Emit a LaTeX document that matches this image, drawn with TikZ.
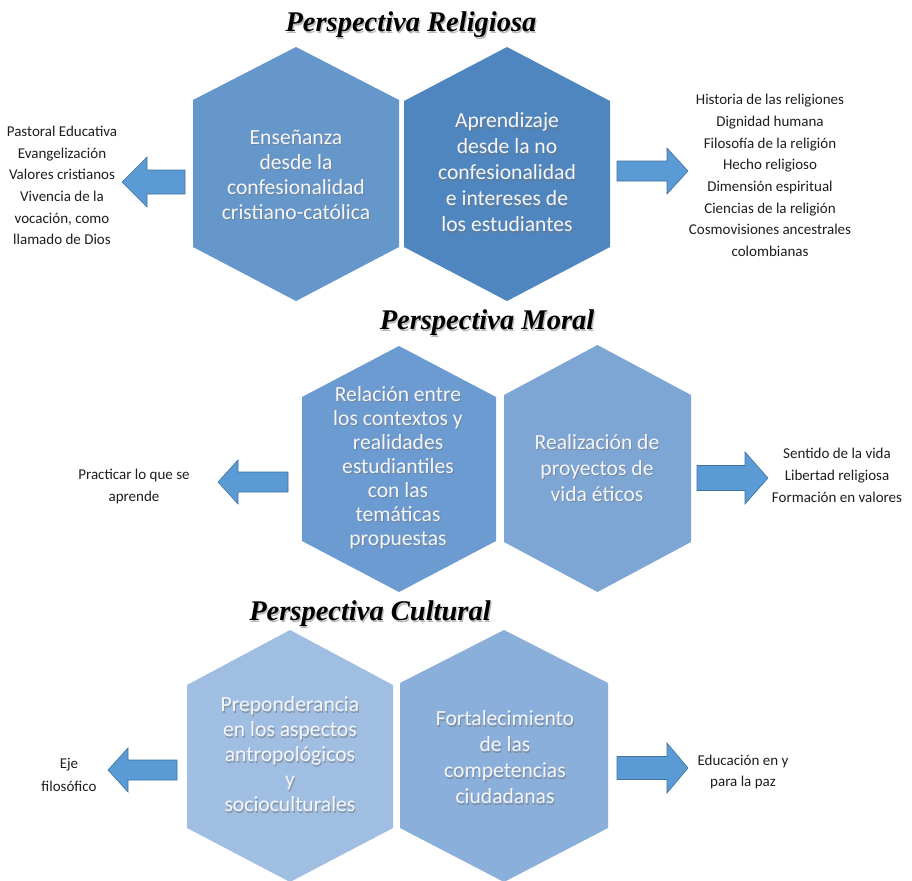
\documentclass[tikz,border=0pt]{standalone}
\usepackage{fontspec}
\setmainfont{Carlito}
\newfontfamily\titlefont{Liberation Serif}
\definecolor{hexA}{HTML}{6597CB}
\definecolor{hexB}{HTML}{4F86BF}
\definecolor{hexC}{HTML}{6B9BD0}
\definecolor{hexD}{HTML}{7DA6D5}
\definecolor{hexE}{HTML}{A0BEE2}
\definecolor{hexF}{HTML}{8AAFDA}
\definecolor{arrfill}{HTML}{5B9BD5}
\definecolor{arrline}{HTML}{41719C}
\definecolor{sidetxt}{HTML}{1E1E1E}
\definecolor{hextxt}{HTML}{F4F6FA}
\newcommand\hexa[7]{\fill[#7] (#1,#3) -- (#1+#2,#4) -- (#1+#2,#5) -- (#1,#6) -- (#1-#2,#5) -- (#1-#2,#4) -- cycle;}
\newcommand\blockarrow[6]{\filldraw[blockarr] (#1,#2) -- (#3,#2-#4) -- (#3,#2-#5) -- (#6,#2-#5) -- (#6,#2+#5) -- (#3,#2+#5) -- (#3,#2+#4) -- cycle;}
\newcommand\hextext[5]{%
  \node[hexlabel, text=black!55, opacity=0.55, font=\fontsize{21.6}{#4}\selectfont] at (#2+1,#3+1.2) {#5};
  \node[hexlabel, font=\fontsize{21.6}{#4}\selectfont] (#1) at (#2,#3) {#5};}
\newcommand\titletext[4]{%
  \node[titlelabel, text=black!45, opacity=0.6] at (#2+1.2,#3+1.2) {#4};
  \node[titlelabel] (#1) at (#2,#3) {#4};}
\tikzset{
  blockarr/.style={fill=arrfill, draw=arrline, line width=0.6pt, line join=miter},
  hexlabel/.style={align=center, text=hextxt, inner sep=0pt},
  sidelabel/.style={align=center, text=sidetxt, inner sep=0pt, font=\fontsize{15}{#1}\selectfont},
  sidelabel/.default=21.7,
  titlelabel/.style={inner sep=0pt, font=\titlefont\bfseries\itshape\fontsize{28.5}{30}\selectfont}
}
\begin{document}
\begin{tikzpicture}[x=1pt,y=-1pt]
\useasboundingbox (0,0) rectangle (912,880);
\fill[white] (0,0) rectangle (912,880);

% titles
\titletext{t1}{411}{25}{Perspectiva Religiosa}
\titletext{t2}{487}{323}{Perspectiva Moral}
\titletext{t3}{370}{614}{Perspectiva Cultural}

% hexagons row 1
\hexa{296}{103}{47}{100}{247}{301}{hexA}
\hexa{507}{103}{47}{101}{247}{301}{hexB}
% row 2
\hexa{399}{97}{346}{397}{541}{592}{hexC}
\hexa{597.5}{93.5}{345}{395}{542}{592}{hexD}
% row 3
\hexa{290}{103}{630}{685}{828}{882}{hexE}
\hexa{504}{104}{630}{683}{828}{882}{hexF}

% hex texts
\hextext{h1}{296}{174.5}{25}{Enseñanza\\desde la\\confesionalidad\\cristiano-católica}
\hextext{h2}{507}{172.5}{26}{Aprendizaje\\desde la no\\confesionalidad\\e intereses de\\los estudiantes}
\hextext{h3}{398}{468}{24}{Relación entre\\los contextos y\\realidades\\estudiantiles\\con las\\temáticas\\propuestas}
\hextext{h4}{597}{468}{26}{Realización de\\proyectos de\\vida éticos}
\hextext{h5}{290}{754.5}{25}{Preponderancia\\en los aspectos\\antropológicos\\y\\socioculturales}
\hextext{h6}{505}{757.5}{26}{Fortalecimiento\\de las\\competencias\\ciudadanas}

% block arrows: tip x, tip y, head base x, head half, shaft half, shaft end x
\blockarrow{122}{182}{147}{25}{12}{185}
\blockarrow{688}{171}{667}{23}{10}{617}
\blockarrow{218}{482}{238}{22}{10}{288}
\blockarrow{768}{478}{745}{26}{12.5}{697}
\blockarrow{108}{770}{128}{22}{10}{177}
\blockarrow{688}{768}{667}{25}{11.5}{617}

% side texts
\node[sidelabel] (s1) at (62,185.5) {Pastoral Educativa\\Evangelización\\Valores cristianos\\Vivencia de la\\vocación, como\\llamado de Dios};
\node[sidelabel] (s2) at (770,175.5) {Historia de las religiones\\Dignidad humana\\Filosofía de la religión\\Hecho religioso\\Dimensión espiritual\\Ciencias de la religión\\Cosmovisiones ancestrales\\colombianas};
\node[sidelabel=22] (s3) at (134,486) {Practicar lo que se\\aprende};
\node[sidelabel=22] (s4) at (837,475) {Sentido de la vida\\Libertad religiosa\\Formación en valores};
\node[sidelabel=23] (s5) at (69,775) {Eje\\filosófico};
\node[sidelabel=21] (s6) at (743,772) {Educación en y\\para la paz};
\end{tikzpicture}
\end{document}
